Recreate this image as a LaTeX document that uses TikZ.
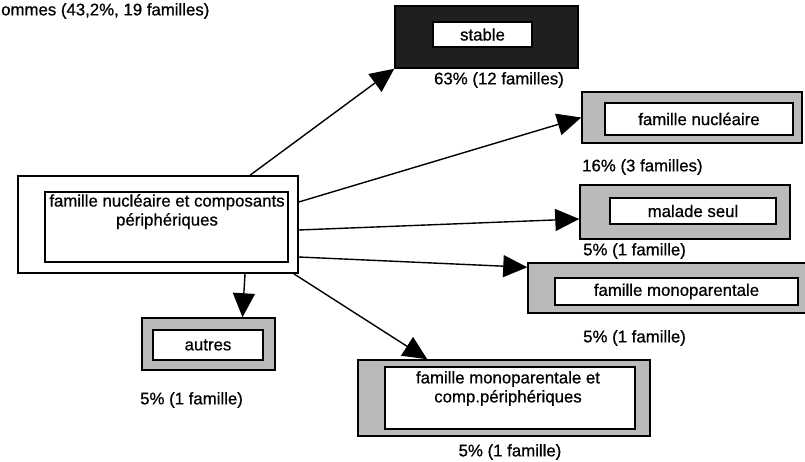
\documentclass[tikz,border=0pt]{standalone}
\usepackage{fontspec}
\setmainfont{Liberation Sans}[FakeBold=0.7]
\usetikzlibrary{arrows.meta}
\begin{document}
\begin{tikzpicture}[x=1pt,y=-1pt,
  outer/.style={draw=black, line width=1.5pt, fill=black!27, inner sep=0pt},
  darkouter/.style={outer, fill=black!88},
  inner/.style={draw=black, line width=1.2pt, fill=white, inner sep=0pt, font=\fontsize{16.8}{19}\selectfont},
  txt/.style={font=\fontsize{16.8}{19}\selectfont, inner sep=0pt},
  conn/.style={line width=1.4pt, -{Triangle[length=24pt,width=22pt]}}]
\clip (0,0) rectangle (805,462);
\fill[white] (0,0) rectangle (805,462);

\node[txt, anchor=west] (top) at (1,11) {ommes (43,2\%, 19 familles)};

% stable
\node[darkouter, minimum width=183pt, minimum height=62pt] (stableo) at (486.5,37) {};
\node[inner, minimum width=99pt, minimum height=25pt] (stablei) at (482.5,34.5) {stable};
\node[txt] (stablel) at (499,80) {63\% (12 familles)};

% famille nucleaire
\node[outer, minimum width=220pt, minimum height=51pt] (nuclo) at (692,117.5) {};
\node[inner, minimum width=188pt, minimum height=32pt] (nucli) at (699,119) {famille nucléaire};
\node[txt, anchor=west] (nucll) at (582,167) {16\% (3 familles)};

% malade seul
\node[outer, minimum width=210pt, minimum height=54pt] (malo) at (685,212) {};
\node[inner, minimum width=166pt, minimum height=26pt] (mali) at (693,211) {malade seul};
\node[txt, anchor=west] (mall) at (583,251) {5\% (1 famille)};

% famille monoparentale
\node[outer, minimum width=284pt, minimum height=50pt] (monoo) at (670,288) {};
\node[inner, minimum width=243pt, minimum height=27pt] (monoi) at (676.5,291.5) {famille monoparentale};
\node[txt, anchor=west] (monol) at (583,338) {5\% (1 famille)};

% main
\node[draw=black, line width=1.5pt, fill=white, inner sep=0pt, minimum width=280pt, minimum height=97pt] (maino) at (158,224.5) {};
\node[draw=black, line width=1.2pt, fill=white, inner sep=0pt, minimum width=243pt, minimum height=70pt] (maini) at (166.5,227) {};
\node[txt, align=center, anchor=north] (maint) at (167,194) {famille nucléaire et composants\\périphériques};

% autres
\node[outer, minimum width=133pt, minimum height=52pt] (autreso) at (208.5,344) {};
\node[inner, minimum width=110pt, minimum height=30pt] (autresi) at (208,345) {autres};
\node[txt, anchor=west] (autresl) at (140,400) {5\% (1 famille)};

% bottom
\node[outer, minimum width=292pt, minimum height=76pt] (boto) at (504,398) {};
\node[draw=black, line width=1.2pt, fill=white, inner sep=0pt, minimum width=250pt, minimum height=62pt] (boti) at (510,398) {};
\node[txt, align=center, anchor=north] (bott) at (508,371) {famille monoparentale et\\comp.périphériques};
\node[txt] (botl) at (510,452) {5\% (1 famille)};

% connectors
\draw[conn] ([xshift=92pt]maino.north) -- (stableo.south west);
\draw[conn] ([yshift=22.5pt]maino.east) -- (nuclo.west);
\draw[conn] ([yshift=-5.5pt]maino.east) -- ([yshift=-7pt]malo.west);
\draw[conn] ([yshift=-32.5pt]maino.east) -- ([yshift=-5pt]monoo.north west);
\draw[conn] ([xshift=87pt]maino.south) -- ([xshift=34pt]autreso.north);
\draw[conn] ([xshift=-5pt]maino.south east) -- ([xshift=70pt]boto.north west);
\end{tikzpicture}
\end{document}
